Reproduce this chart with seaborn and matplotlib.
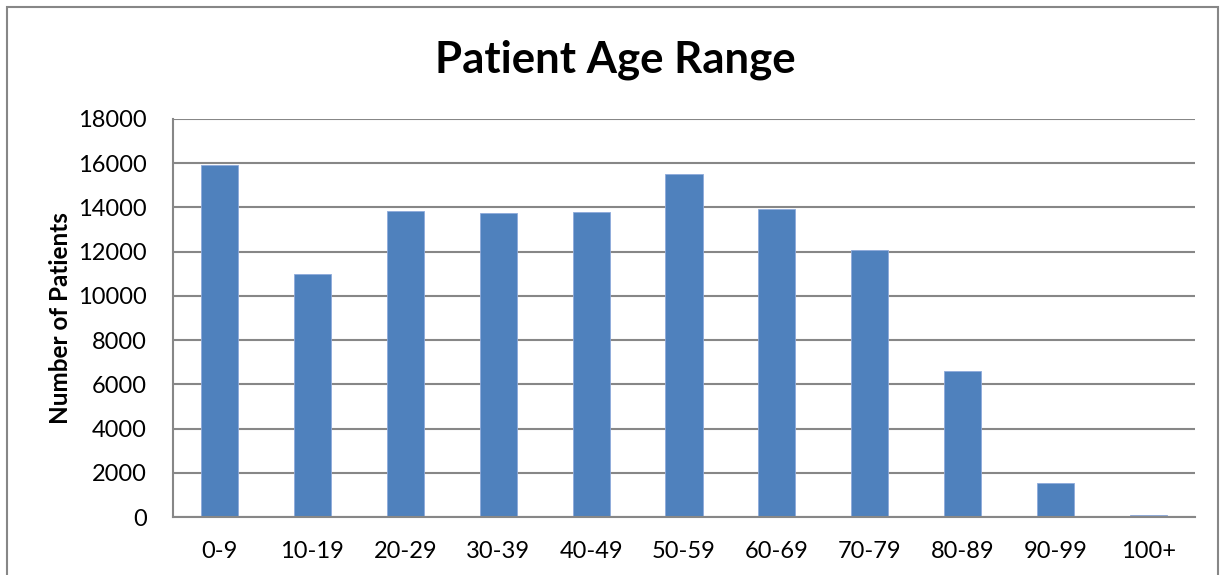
import matplotlib
matplotlib.use("Agg")
import matplotlib.pyplot as plt
from matplotlib.patches import Rectangle
import seaborn as sns
import pandas as pd

age_ranges = ["0-9", "10-19", "20-29", "30-39", "40-49", "50-59",
              "60-69", "70-79", "80-89", "90-99", "100+"]
patients = [15900, 11000, 13850, 13770, 13790, 15500,
            13920, 12070, 6600, 1550, 70]
y_ticks = [0, 2000, 4000, 6000, 8000, 10000, 12000, 14000, 16000, 18000]

df = pd.DataFrame({"age": age_ranges, "patients": patients})

sns.set_theme(style="white")
plt.rcParams["font.family"] = ["Lato", "DejaVu Sans"]
plt.rcParams["text.color"] = "black"

W, H = 1220, 575
fig = plt.figure(figsize=(W / 100, H / 100), dpi=100)
ax = fig.add_axes([173 / W, 1 - 517 / H, (1195 - 173) / W, (517 - 119) / H])

sns.barplot(data=df, x="age", y="patients", ax=ax, color="#4F81BD",
            saturation=1, width=0.4, edgecolor="#8EAADB", linewidth=0.6)

ax.set_ylim(0, 18000)
ax.set_xlim(-0.5, len(age_ranges) - 0.5)
ax.set_yticks(y_ticks)
ax.set_yticklabels([str(v) for v in y_ticks])
ax.yaxis.grid(True, color="#878787", linewidth=1.5)
ax.set_axisbelow(True)
for s in ["top", "right"]:
    ax.spines[s].set_visible(False)
for s in ["left", "bottom"]:
    ax.spines[s].set_color("#878787")
    ax.spines[s].set_linewidth(1.5)
ax.tick_params(axis="y", length=4, width=1.2, color="#878787", pad=15, labelsize=17, labelcolor="black")
ax.tick_params(axis="x", length=0, pad=17, labelsize=17, labelcolor="black")
ax.set_xlabel("")
ax.set_ylabel("Number of Patients", fontsize=17.5, fontweight="bold", labelpad=4, color="black")

fig.text(615 / W, 1 - 60 / H, "Patient Age Range", ha="center", va="center",
         fontsize=31.5, fontweight="bold", color="black")

fig.patches.append(Rectangle((7 / W, -0.1), (1218 - 7) / W, 1.1 - 7 / H,
                             transform=fig.transFigure, fill=False,
                             edgecolor="#878787", linewidth=1.5))

fig.savefig("out.png", dpi=100)
